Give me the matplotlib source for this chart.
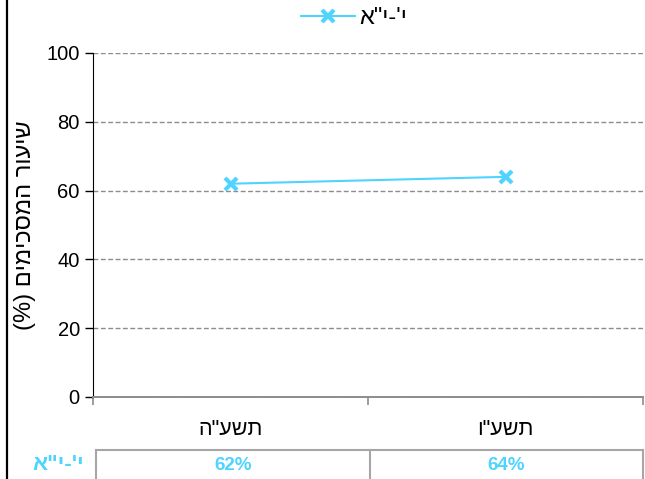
"""
Agreement rate by year - line chart with data table (Hebrew labels)
"""

import matplotlib
matplotlib.use('Agg')
import matplotlib.pyplot as plt
from matplotlib.lines import Line2D

plt.rcParams['font.family'] = ['Liberation Sans', 'DejaVu Sans']

# Data
years = ['תשע"ה', 'תשע"ו']
series_name = 'י\'-י"א'
values = [62, 64]
y_ticks = [0, 20, 40, 60, 80, 100]
y_label = 'שיעור המסכימים (%)'

CYAN = '#4FD3FF'
GRID = '#8C8C8C'
TABLE_EDGE = '#A6A6A6'


def vis(s):
    """matplotlib has no bidi: reverse to visual order, mirror brackets"""
    mirror = {'(': ')', ')': '('}
    return ''.join(mirror.get(c, c) for c in s[::-1])


W, H = 645, 479
fig = plt.figure(figsize=(W / 100, H / 100), dpi=100)
ax = fig.add_axes([93 / W, 1 - 397 / H, (643 - 93) / W, (397 - 53) / H])

x = list(range(len(years)))
ax.plot(x, values, color=CYAN, lw=1.5, marker='x', markersize=9, mew=3,
        label=vis(series_name), zorder=3)

ax.set_xlim(-0.5, len(years) - 0.5)
ax.set_ylim(0, 100)
ax.set_yticks(y_ticks)
ax.tick_params(axis='y', labelsize=14.5, length=5.5, width=1, color='black', pad=4)
ax.yaxis.grid(True, color=GRID, lw=1, linestyle=(0, (3.5, 1.8)))
ax.set_axisbelow(True)

# category boundaries as tick marks, labels in the middle
ax.set_xticks([i - 0.5 for i in range(len(years) + 1)])
ax.set_xticklabels([])
ax.set_xticks(x, minor=True)
ax.set_xticklabels([vis(y) for y in years], minor=True)
ax.tick_params(axis='x', which='major', length=5.5, width=1.2, color=GRID)
ax.tick_params(axis='x', which='minor', length=0, labelsize=15.5, pad=16)

for s in ['top', 'right']:
    ax.spines[s].set_visible(False)
ax.spines['left'].set_color('black')
ax.spines['bottom'].set_color(GRID)
ax.spines['bottom'].set_linewidth(1.4)

ax.set_ylabel(vis(y_label), fontsize=17, va='center')
ax.yaxis.set_label_coords((25 - 93) / 550, 0.5)

# legend at top
fig.legend(loc='center', bbox_to_anchor=(354 / W, 1 - 18 / H), frameon=False,
           fontsize=17, handlelength=2.3, handletextpad=0.15)

# data table under the axis
top = 1 - 450 / H
bottom = -0.05
xs = [96 / W, 370 / W, 643 / W]
for xv in xs:
    fig.add_artist(Line2D([xv, xv], [bottom, top], color=TABLE_EDGE, lw=1.5))
fig.add_artist(Line2D([xs[0], xs[-1]], [top, top], color=TABLE_EDGE, lw=1.5))
for i, v in enumerate(values):
    fig.text((xs[i] + xs[i + 1]) / 2, 1 - 465 / H, f'{v}%', color=CYAN,
             fontsize=13.5, fontweight='bold', ha='center', va='center')
fig.text(84 / W, 1 - 465 / H, vis(series_name), color=CYAN, fontsize=16,
         fontweight='bold', ha='right', va='center')

# dark border on the left edge
fig.add_artist(Line2D([6.5 / W, 6.5 / W], [0, 1], color='black', lw=1.6))

plt.savefig('out.png', dpi=100)
